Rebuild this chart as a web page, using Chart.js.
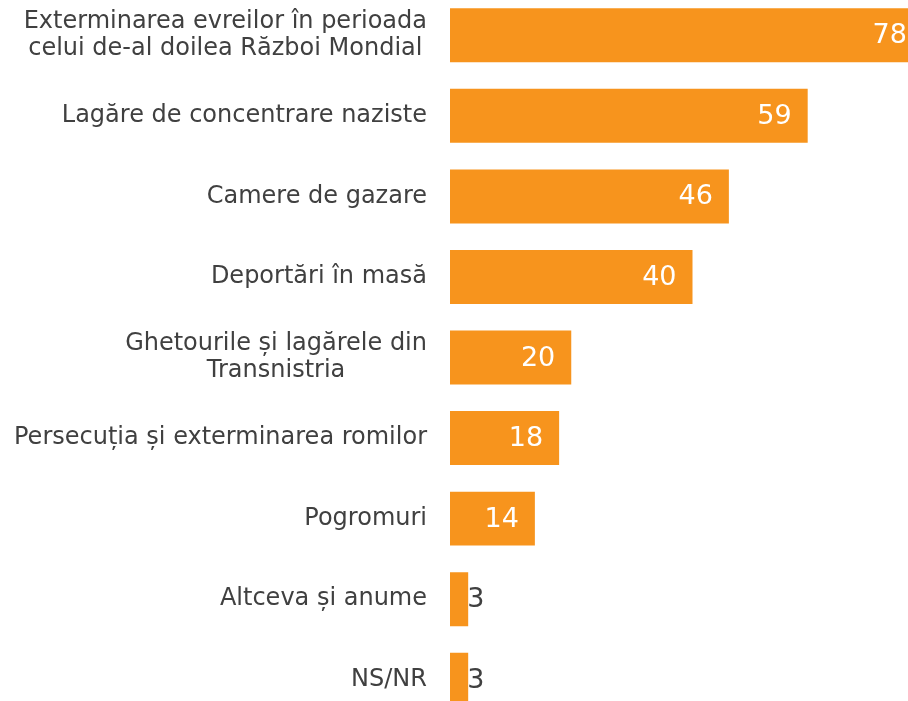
<!DOCTYPE html>
<html><head><meta charset="utf-8">
<script src="https://cdn.jsdelivr.net/npm/chart.js@4"></script>
<style>
html,body{margin:0;padding:0;background:#fff;overflow:hidden;}
#wrap{position:relative;width:908px;height:701px;overflow:hidden;}
#c{position:absolute;left:0;top:-5px;}
</style></head>
<body><div id="wrap"><canvas id="c" width="935" height="725"></canvas></div>
<script>
const categories = [
  ["Exterminarea evreilor în perioada","celui de-al doilea Război Mondial"],
  ["Lagăre de concentrare naziste"],
  ["Camere de gazare"],
  ["Deportări în masă"],
  ["Ghetourile și lagărele din","Transnistria"],
  ["Persecuția și exterminarea romilor"],
  ["Pogromuri"],
  ["Altceva și anume"],
  ["NS/NR"]
];
const values = [78, 59, 46, 40, 20, 18, 14, 3, 3];

const FONT = '"DejaVu Sans", Verdana, sans-serif';
const TEXT = '#404040';
const ORANGE = '#F7941D';

const labelPlugin = {
  id: 'customLabels',
  afterDatasetsDraw(chart) {
    const ctx = chart.ctx;
    const yScale = chart.scales.y;
    const area = chart.chartArea;
    ctx.save();
    ctx.font = '24px ' + FONT;
    ctx.fillStyle = TEXT;
    ctx.textBaseline = 'middle';
    ctx.textAlign = 'center';
    const lh = 27.5;
    categories.forEach((lines, i) => {
      const yc = yScale.getPixelForValue(i);
      const maxW = Math.max(...lines.map(l => ctx.measureText(l).width));
      const right = area.left - 23;
      const cx = right - maxW / 2;
      const y0 = yc - (lines.length - 1) * lh / 2;
      lines.forEach((l, k) => ctx.fillText(l, cx, y0 + k * lh));
    });
    const meta = chart.getDatasetMeta(0);
    ctx.font = '27px ' + FONT;
    meta.data.forEach((bar, i) => {
      const v = values[i];
      if (v < 6) {
        ctx.fillStyle = TEXT;
        ctx.textAlign = 'left';
        ctx.fillText(String(v), bar.x - 1, bar.y + 1);
      } else {
        ctx.fillStyle = '#ffffff';
        ctx.textAlign = 'right';
        ctx.fillText(String(v), bar.x - 16, bar.y + 1);
      }
    });
    ctx.restore();
  }
};

new Chart(document.getElementById('c'), {
  type: 'bar',
  data: {
    labels: categories,
    datasets: [{
      data: values,
      backgroundColor: ORANGE,
      borderWidth: 0,
      barPercentage: 0.67,
      categoryPercentage: 1
    }]
  },
  options: {
    indexAxis: 'y',
    responsive: false,
    animation: false,
    layout: { padding: 0 },
    plugins: { legend: { display: false }, tooltip: { enabled: false } },
    scales: {
      x: { display: false, min: 0, max: 80 },
      y: {
        grid: { display: false, drawTicks: false },
        border: { display: false },
        ticks: { display: false },
        afterFit(scale) { scale.width = 450; }
      }
    }
  },
  plugins: [labelPlugin]
});
</script></body></html>
